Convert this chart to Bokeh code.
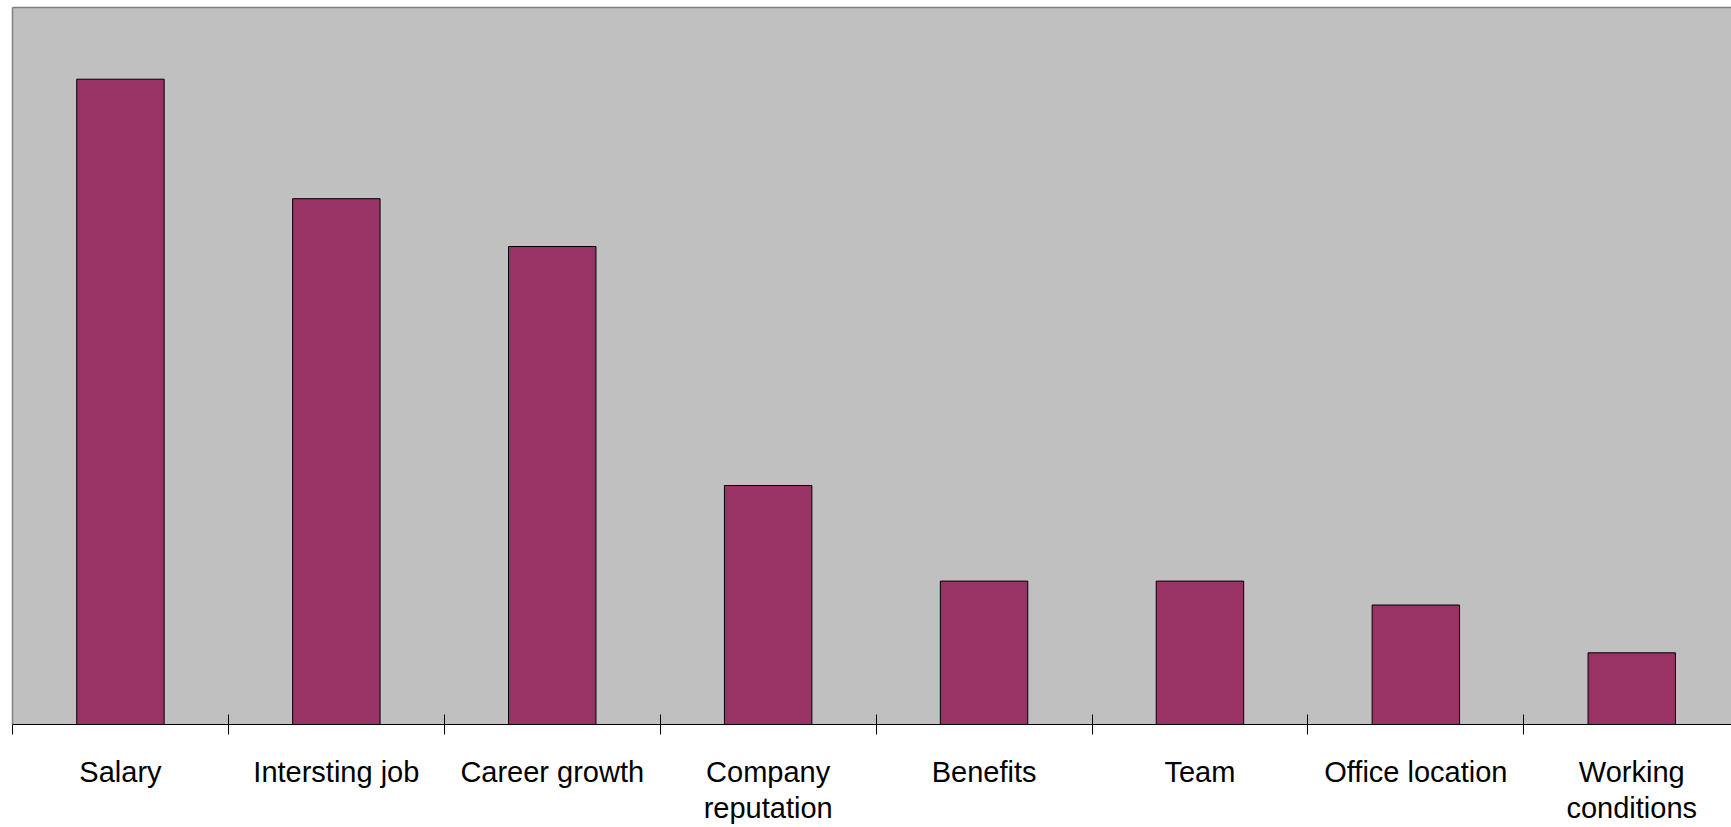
from bokeh.plotting import figure
from bokeh.models import ColumnDataSource, Range1d, FixedTicker, LinearAxis
from bokeh.embed import file_html
from bokeh.resources import INLINE

# ---- data ----
categories = ["Salary", "Intersting job", "Career growth", "Company reputation",
              "Benefits", "Team", "Office location", "Working conditions"]
tick_labels = ["Salary", "Intersting job", "Career growth", "Company\nreputation",
               "Benefits", "Team", "Office location", "Working\nconditions"]
values = [27, 22, 20, 10, 6, 6, 5, 3]
y_max = 30

centers = [i + 0.5 for i in range(len(categories))]
bounds = [float(i) for i in range(len(categories) + 1)]

src = ColumnDataSource(dict(x=centers, top=values, cat=categories))

p = figure(width=1731, height=827, output_backend="svg", toolbar_location=None,
           x_range=Range1d(0, 7.962), y_range=Range1d(0, y_max),
           x_axis_location=None, y_axis_location=None,
           min_border_left=12, min_border_right=0, min_border_top=7, min_border_bottom=0)
p.background_fill_color = "#C0C0C0"
p.border_fill_color = "white"
p.outline_line_color = None
p.xgrid.visible = False
p.ygrid.visible = False

p.vbar(x="x", top="top", width=0.405, source=src,
       fill_color="#993366", line_color="black", line_width=1)

# category axis below: labels at centres, ticks at boundaries
xa = LinearAxis(ticker=FixedTicker(ticks=centers, minor_ticks=bounds))
xa.major_label_overrides = {c: t for c, t in zip(centers, tick_labels)}
xa.major_tick_line_color = None
xa.major_tick_in = 0
xa.major_tick_out = 0
xa.minor_tick_line_color = "black"
xa.minor_tick_in = 10
xa.minor_tick_out = 10
xa.axis_line_color = "black"
xa.axis_line_width = 1
xa.major_label_text_font = "Liberation Sans"
xa.major_label_text_font_size = "29px"
xa.major_label_text_color = "black"
xa.major_label_text_line_height = 1.15
xa.major_label_standoff = 21
p.add_layout(xa, "below")

# left and top plot-area borders (gray lines)
for side in ("left", "above"):
    ax = LinearAxis(ticker=FixedTicker(ticks=[]))
    ax.axis_line_color = "#808080"
    ax.axis_line_width = 1.5
    ax.major_tick_line_color = None
    ax.minor_tick_line_color = None
    ax.major_tick_in = 0
    ax.major_tick_out = 0
    ax.minor_tick_in = 0
    ax.minor_tick_out = 0
    ax.major_label_text_font_size = "0px"
    ax.major_label_standoff = 0
    p.add_layout(ax, side)

open("out.html", "w").write(file_html(p, INLINE))
